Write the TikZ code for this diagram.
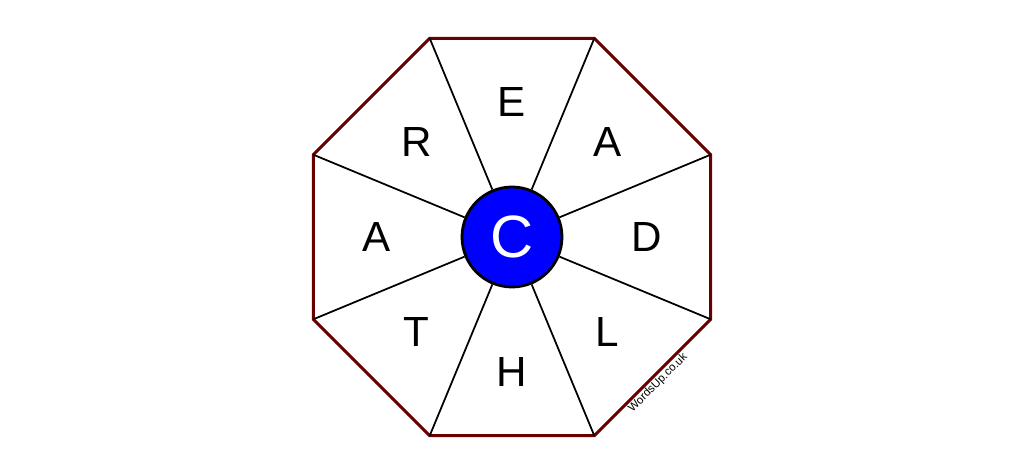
\documentclass[tikz,border=0pt]{standalone}
\usepackage{fontspec}
\setmainfont{Liberation Sans}
\usepackage{tikz}
\usetikzlibrary{calc}
\definecolor{rimred}{RGB}{105,0,0}
\tikzset{
  rim/.style={rimred,line width=1.7pt,line join=miter},
  spoke/.style={black,line width=1pt},
  hub/.style={circle,draw=black,fill=blue,line width=1.6pt,minimum size=2cm,inner sep=0pt,text=white,font=\fontsize{34}{34}\selectfont},
  letter/.style={font=\fontsize{24}{24}\selectfont,inner sep=0pt}
}

\begin{document}
\begin{tikzpicture}[x=0.02cm,y=0.02cm]
  \useasboundingbox (0,0) rectangle (1024,476);

  % octagon corners
  \foreach \k in {0,...,7}{
    \coordinate (v\k) at ($(512,239)+({22.5+45*\k}:215)$);
  }
  \draw[rim] (v0) -- (v1) -- (v2) -- (v3) -- (v4) -- (v5) -- (v6) -- (v7) -- cycle;

  \node[hub] (hub) at (512,239) {C};

  % spokes
  \foreach \k in {0,...,7}{
    \draw[spoke] (hub) -- (v\k);
  }

  % outer letters
  \foreach \ang/\txt/\nm in {0/D/d,45/A/ane,90/E/e,135/R/r,180/A/aw,225/T/t,270/H/h,315/L/l}{
    \node[letter] (l\nm) at ($(512,239)+(\ang:135)$) {\txt};
  }

  \node[rotate=45,font=\fontsize{6.5}{6.5}\selectfont,inner sep=0pt] (mark) at (658,93) {WordsUp.co.uk};
\end{tikzpicture}
\end{document}
